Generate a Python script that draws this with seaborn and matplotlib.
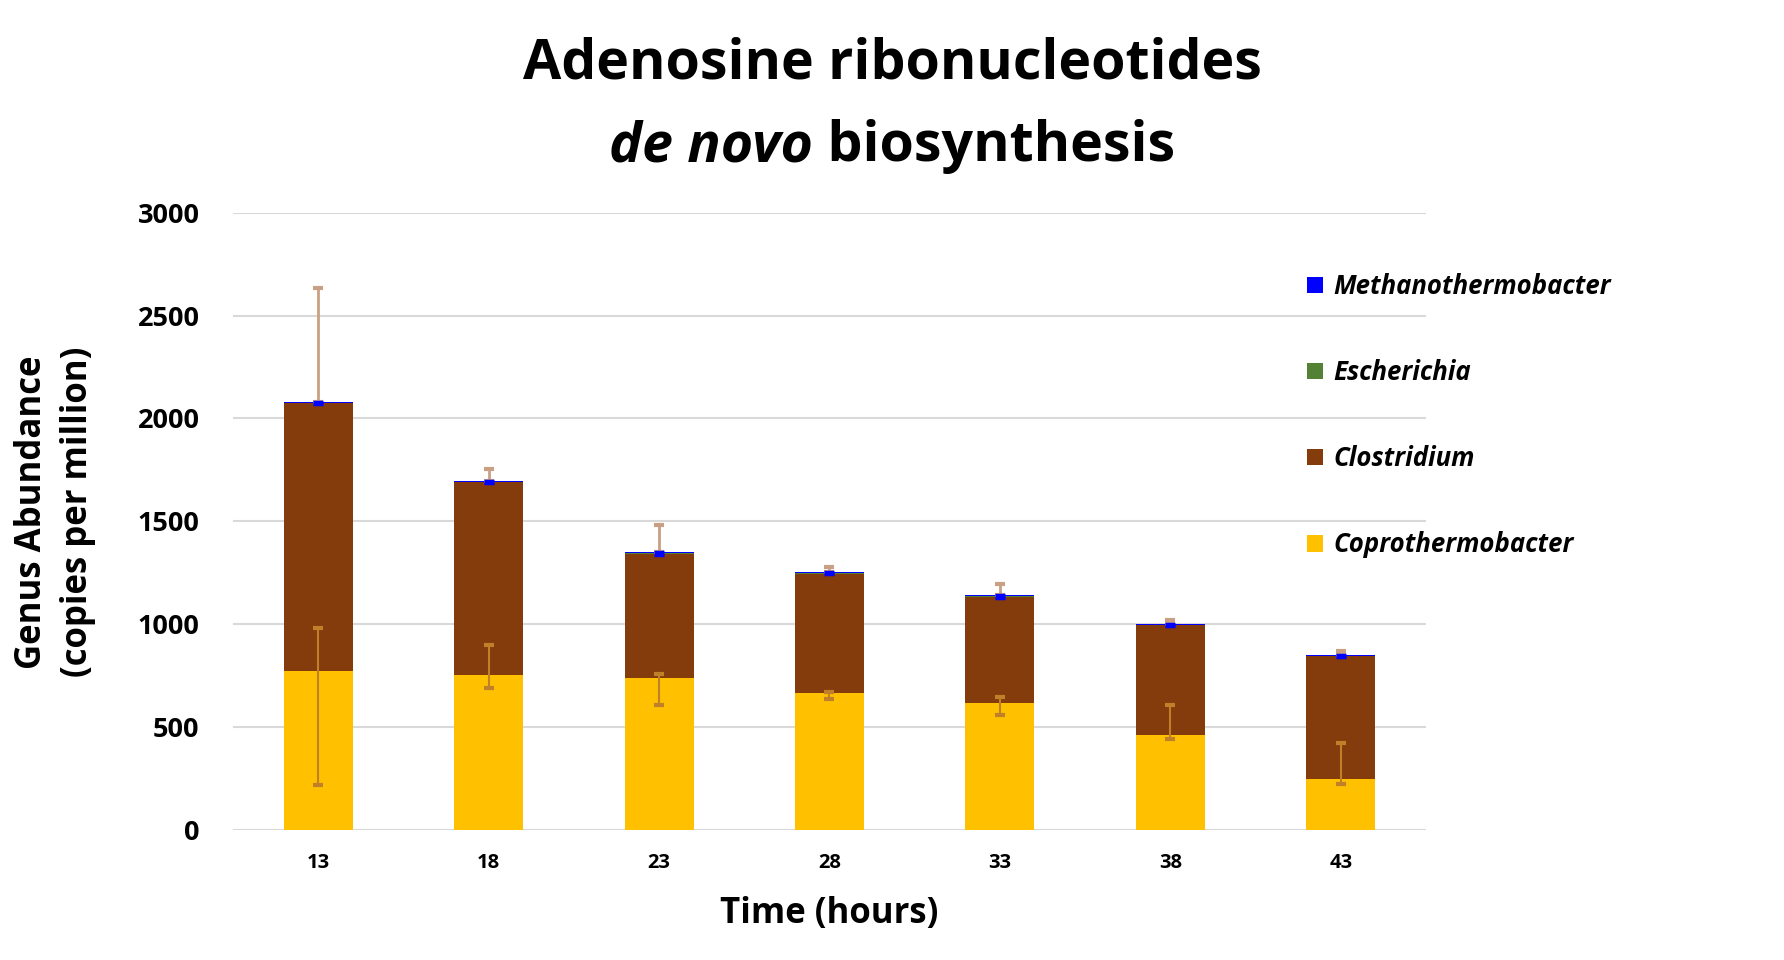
import numpy as np
import pandas as pd
import matplotlib
matplotlib.use("Agg")
import matplotlib.pyplot as plt
from matplotlib.patches import Patch
import seaborn as sns

# ---------------- data ----------------
times = ["13", "18", "23", "28", "33", "38", "43"]
copro = [772, 753, 738, 665, 617, 461, 247]
clostridium = [1302, 936, 605, 577, 517, 533, 596]
escherichia = [1, 1, 1, 6, 1, 1, 1]
methano = [6, 6, 6, 6, 6, 6, 6]
copro_err_low = [554, 62, 134, 29, 57, 18, 23]
copro_err_high = [209, 146, 21, 7, 26, 143, 177]
total_err_high = [551, 60, 133, 25, 55, 17, 21]
methano_err_low = [12, 12, 12, 12, 12, 12, 12]

series_names = ["Methanothermobacter", "Escherichia", "Clostridium", "Coprothermobacter"]
colors = {"Methanothermobacter": "#0000FF", "Escherichia": "#548235",
          "Clostridium": "#843C0C", "Coprothermobacter": "#FFC000"}

sns.set_theme(style="white")
plt.rcParams['font.family'] = ['Open Sans', 'DejaVu Sans']
plt.rcParams['text.color'] = 'black'
plt.rcParams['axes.labelcolor'] = 'black'
plt.rcParams['xtick.color'] = 'black'
plt.rcParams['ytick.color'] = 'black'

df = pd.DataFrame({"time": times, "Coprothermobacter": copro, "Clostridium": clostridium,
                   "Escherichia": escherichia, "Methanothermobacter": methano})
# cumulative heights for stacked drawing
df["cum_copro"] = df["Coprothermobacter"]
df["cum_clos"] = df["cum_copro"] + df["Clostridium"]
df["cum_esch"] = df["cum_clos"] + df["Escherichia"]
df["cum_meth"] = df["cum_esch"] + df["Methanothermobacter"]

fig = plt.figure(figsize=(17.84, 9.6), dpi=100)
L, R, T, B = 233, 1426, 212.8, 829.7
W, H = 1784, 960
ax = fig.add_axes([L / W, 1 - B / H, (R - L) / W, (B - T) / H])

bw = 0.405
for col, name in [("cum_meth", "Methanothermobacter"), ("cum_esch", "Escherichia"),
                  ("cum_clos", "Clostridium"), ("cum_copro", "Coprothermobacter")]:
    sns.barplot(data=df, x="time", y=col, order=times, color=colors[name],
                saturation=1, width=bw, ax=ax, errorbar=None, linewidth=0, zorder=2)

pos = np.arange(len(times))
# Coprothermobacter error bars
ax.errorbar(pos, df["cum_copro"], yerr=[copro_err_low, copro_err_high], fmt="none",
            ecolor="#C0802A", elinewidth=1.5, capsize=3.3, capthick=3, zorder=4)
# upper error bars at top of stack
ax.errorbar(pos, df["cum_meth"], yerr=[np.zeros(len(times)), total_err_high], fmt="none",
            ecolor="#C9A084", elinewidth=2, capsize=3.3, capthick=3, zorder=4)
ax.errorbar(pos, df["cum_meth"], yerr=[methano_err_low, np.zeros(len(times))], fmt="none",
            ecolor="#0000FF", elinewidth=1.5, capsize=3.3, capthick=2.5, zorder=5)

ax.set_ylim(0, 3000)
ax.set_xlim(-0.5, len(times) - 0.5)
ax.set_yticks([0, 500, 1000, 1500, 2000, 2500, 3000])
ax.yaxis.grid(True, color="#D9D9D9", linewidth=1.5, zorder=0)
ax.set_axisbelow(True)
for s in ax.spines.values():
    s.set_visible(False)
ax.tick_params(axis="both", length=0)
ax.tick_params(axis="y", pad=24, labelsize=19.5)
ax.tick_params(axis="x", pad=17, labelsize=14.5)
for lab in ax.get_yticklabels() + ax.get_xticklabels():
    lab.set_fontweight("bold")

ax.set_xlabel("Time (hours)", fontsize=25, fontweight="bold")
ax.xaxis.set_label_coords(0.5, -0.137)
ax.xaxis.label.set_va("center")
ax.set_ylabel("Genus Abundance\n(copies per million)", fontsize=25, fontweight="bold",
              linespacing=1.35)
ax.yaxis.set_label_coords((55 - L) / (R - L), 0.515)
ax.yaxis.label.set_va("center")

# title
fig.text(892 / W, 1 - 64 / H, "Adenosine ribonucleotides", fontsize=40,
         fontweight="bold", ha="center", va="center")
t1 = fig.text(0, 1 - 147 / H, "de novo", fontsize=40, fontweight="bold",
              fontstyle="italic", ha="left", va="center")
t2 = fig.text(0, 1 - 147 / H, " biosynthesis", fontsize=40, fontweight="bold",
              ha="left", va="center")
fig.canvas.draw()
r = fig.canvas.get_renderer()
w1 = t1.get_window_extent(r).width
w2 = t2.get_window_extent(r).width
x0 = 892 - (w1 + w2) / 2
t1.set_x(x0 / W)
t2.set_x((x0 + w1) / W)

handles = [Patch(facecolor=colors[n], edgecolor="none") for n in series_names]
leg = fig.legend(handles, series_names, loc="upper left",
                 bbox_to_anchor=(1307 / W, 1 - 273 / H), frameon=False,
                 prop={"size": 18.5, "weight": "bold", "style": "italic"},
                 handlelength=0.62, handleheight=0.62, handletextpad=0.4,
                 labelspacing=2.3, borderpad=0, borderaxespad=0)

fig.savefig("out.png", dpi=100)
